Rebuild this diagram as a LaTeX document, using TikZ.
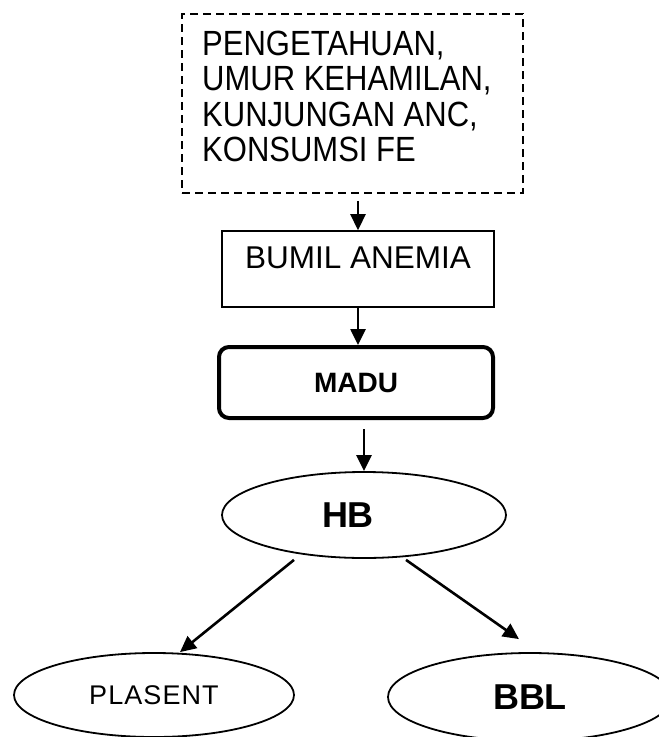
\documentclass[tikz,border=0pt]{standalone}
\usepackage{fontspec}
\setmainfont{Liberation Sans}
\newfontfamily\tallsans[FakeStretch=0.886]{Liberation Sans}
\usetikzlibrary{arrows.meta,shapes.geometric}
\begin{document}
\begin{tikzpicture}[x=1pt,y=-1pt,
  arr/.style={line width=2.6pt,-{Triangle[length=16pt,width=15pt]}},
  box/.style={draw,line width=1.6pt,inner sep=0pt},
  oval/.style={draw,ellipse,line width=1.8pt,inner sep=0pt},
]
\useasboundingbox (0,0) rectangle (659,737);
\clip (0,0) rectangle (659,737);
\node[box,dash pattern=on 8pt off 5pt,minimum width=341pt,minimum height=179pt] (factors) at (352.5,103.5) {};
\node[anchor=north west,inner sep=0pt,align=left,
  font=\tallsans\fontsize{35}{35.5}\selectfont] (factorstext) at (202,30.7)
  {PENGETAHUAN,\\UMUR KEHAMILAN,\\KUNJUNGAN ANC,\\KONSUMSI FE};
\node[box,minimum width=272pt,minimum height=76pt,text height=22pt,text depth=24pt,
  font=\fontsize{31.5}{36}\selectfont] (bumil) at (358,269) {BUMIL ANEMIA};
\node[box,line width=4pt,rounded corners=10pt,minimum width=274pt,minimum height=71pt,
  font=\bfseries\fontsize{28}{34}\selectfont] (madu) at (356,382.5) {MADU};
\node[oval,minimum width=284pt,minimum height=86pt,
  font=\bfseries\fontsize{36}{40}\selectfont] (hb) at (364,515) {HB\rule{32pt}{0pt}};
\node[oval,minimum width=280pt,minimum height=84pt,
  font=\fontsize{27}{30}\selectfont\addfontfeature{LetterSpace=4}] (plasent) at (154,695) {PLASENT};
\node[oval,minimum width=284pt,minimum height=88pt,
  font=\bfseries\fontsize{36}{40}\selectfont] (bbl) at (530,697) {BBL};
\draw[arr,shorten <=7pt] (bumil.north |- factors.south) -- (bumil.north);
\draw[arr] (bumil.south) -- (bumil.south |- madu.north);
\draw[arr,shorten <=9pt] (hb.north |- madu.south) -- (hb.north);
\draw[arr] ([xshift=-70pt,yshift=-1pt]hb.south) -- ([xshift=26pt]plasent.north);
\draw[arr] ([xshift=42pt,yshift=-1pt]hb.south) -- ([xshift=-11pt,yshift=13pt]bbl.north);
\end{tikzpicture}
\end{document}
